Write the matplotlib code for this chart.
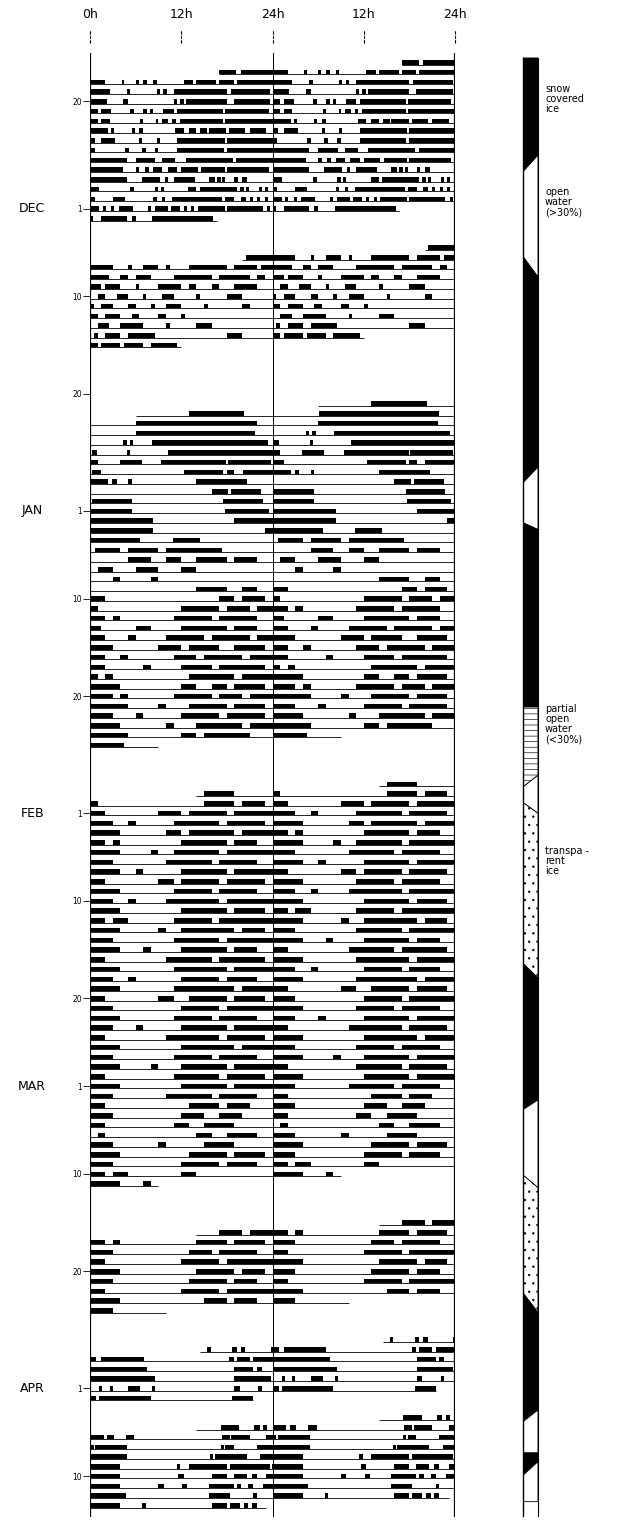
import datetime as dt
import matplotlib
matplotlib.use("Agg")
import matplotlib.pyplot as plt
from matplotlib.patches import Polygon

plt.rcParams["hatch.linewidth"] = 0.45

# ---------------- data ----------------
# activity bouts per day (hours 0-24), keyed by day of month
nov = {
    17: [(17, 19.2), (19.8, 24)],
    18: [(0, 2), (4.2, 4.5), (6, 6.4), (7, 7.5), (8.3, 8.8), (12.3, 13.6), (14, 16.6), (17, 18.9), (19.3, 24)],
    19: [(0, 2.6), (4.8, 5.3), (8.8, 9.2), (9.6, 10.1), (11, 18), (18.5, 23.7)],
    20: [(0, 2.2), (4.4, 5), (11, 11.4), (11.8, 12.3), (12.6, 18), (18.9, 23.7)],
    21: [(0, 1), (1.5, 2.8), (5.3, 5.8), (7, 7.5), (7.9, 8.3), (9.6, 11), (11.5, 17.5), (17.8, 23.5)],
    22: [(0, 1), (1.5, 2.6), (6.6, 7), (8.7, 9), (9.5, 10.3), (10.8, 11.3), (11.8, 17.5), (17.8, 24)],
    23: [(0, 2.4), (2.8, 3.2), (5.5, 5.9), (6.5, 7), (11.2, 12.3), (13, 14), (14.5, 15.4), (15.6, 17.9), (18.3, 20.4), (21, 23.2)],
    24: [(0, 0.7), (1.5, 3.3), (6.5, 6.9), (8.8, 9.2), (11.5, 17.7), (18, 24)],
    25: [(0, 0.6), (4.6, 5.1), (6.8, 7.3), (8.5, 9), (11.5, 17.6), (18, 24)],
    26: [(0, 4.8), (6, 8.6), (9.5, 11.2), (12.6, 18.8), (19.2, 24)],
    27: [(0, 4.4), (6, 6.5), (7.2, 7.7), (8.3, 9.5), (10.2, 11.5), (12, 14.2), (14.6, 17.7), (18, 23.5)],
    28: [(0, 4.8), (6.8, 9.2), (9.8, 10.2), (11, 13.8), (15.6, 16.4), (16.7, 17.2), (17.4, 17.8), (19, 19.4), (20, 20.7)],
    29: [(0, 1.2), (5.3, 5.8), (8.5, 9), (9.3, 9.7), (12.9, 14), (14.4, 19.3), (19.7, 20.2), (20.5, 20.9), (22.2, 22.6), (23, 23.4)],
    30: [(0, 0.6), (3, 4.6), (8.3, 8.8), (9.5, 9.9), (10.8, 17.4), (17.8, 19), (19.8, 20.5), (21, 21.4), (22, 22.4), (23, 23.4)],
}
dec = {
    1: [(0, 1.2), (1.7, 2.1), (2.8, 3.2), (3.8, 5.6), (7.6, 8), (8.5, 10.2), (10.6, 11.8), (12.3, 12.7), (13.3, 13.7), (14.2, 17.7), (18, 22.7), (23.3, 23.7)],
    2: [(0, 0.4), (1.5, 4.8), (5.5, 6), (8.2, 16.2)],
    6: [(20.5, 24)],
    7: [(0, 3), (5, 5.5), (7, 9), (10, 10.5), (13, 18), (19, 22), (22.5, 24)],
    8: [(0, 2.5), (4, 5), (6, 8), (11, 16), (17, 21), (22, 23)],
    9: [(0, 1.5), (2, 4), (6, 6.5), (9, 12), (13, 14), (16, 17), (19, 22)],
    10: [(1, 2), (3.5, 5), (7, 7.4), (9.5, 11), (14, 14.5), (18, 20)],
    11: [(0, 0.5), (1.5, 3), (5, 6), (8, 8.5), (10, 12), (15, 15.5), (20, 21)],
    12: [(0, 1), (2, 4), (5.5, 6.5), (9, 10), (12, 12.5)],
    13: [(1, 2.5), (4, 7), (10, 10.5), (14, 16)],
    14: [(0.5, 1), (2, 4), (5, 8.5), (18, 20)],
    15: [(0, 1), (1.5, 4), (4.5, 7), (8, 11.5)],
    22: [(13, 20.3)],
    23: [(6.1, 21.9)],
    24: [(6, 21.7)],
    25: [(4.4, 4.8), (5.2, 5.7), (8.1, 23.4)],
    26: [(0.2, 0.9), (4.9, 5.3), (10.3, 24)],
    27: [(0, 1), (3.9, 6.8), (9.4, 17.9), (18.1, 23.8)],
    28: [(0.2, 1.5), (12.4, 17.5), (18, 19), (20.1, 24)],
    29: [(0, 2.4), (2.9, 3.5), (5, 5.5), (14, 20.7)],
    30: [(16, 18.2), (18.6, 22.5)],
    31: [(0.2, 5.5), (17.5, 22.7)],
}
jan = {
    1: [(0, 5.5), (17.7, 23.5)],
    2: [(0, 8.3), (19, 24)],
    3: [(0, 8.3), (23, 24)],
    4: [(0, 6.6), (10.9, 14.4)],
    5: [(0.7, 4), (5, 9), (10, 17.3)],
    6: [(5, 8), (10, 12), (14, 18), (19, 22)],
    7: [(1, 3), (6, 9), (12, 14)],
    8: [(3, 4), (8, 9)],
    9: [(14, 18), (20, 22)],
    10: [(0, 2), (17, 19), (20, 23)],
    11: [(0, 1), (12, 17), (18, 21), (22, 24)],
    12: [(0, 2), (3, 4), (11, 16), (17, 22)],
    13: [(0, 1.5), (6, 8), (12, 18), (19, 22)],
    14: [(0, 2), (5, 6), (10, 15), (16, 21), (22, 24)],
    15: [(0, 3), (9, 12), (13, 17), (19, 23)],
    16: [(0, 2), (4, 5), (11, 14), (15, 20), (21, 24)],
    17: [(0, 2), (7, 8), (12, 16), (17, 23)],
    18: [(0, 1), (2, 3), (13, 19), (20, 24)],
    19: [(0, 4), (12, 14), (16, 18), (19, 23)],
    20: [(0, 3), (4, 5), (11, 16), (17, 20), (21, 24)],
    21: [(0, 5), (9, 10), (13, 18), (19, 23)],
    22: [(0, 3), (6, 7), (12, 17), (18, 23)],
    23: [(0, 4), (10, 11), (14, 20), (21, 24)],
    24: [(0, 5), (12, 14), (15, 21)],
    25: [(0, 4.5)],
    30: [(15, 19)],
    31: [(0, 1), (15, 19), (20, 23)],
}
feb = {
    1: [(0, 2), (9, 12), (13, 18), (19, 24)],
    2: [(0, 3), (5, 6), (11, 17), (18, 23)],
    3: [(0, 4), (10, 12), (13, 19), (20, 24)],
    4: [(0, 2), (3, 4), (12, 18), (19, 22)],
    5: [(0, 4), (8, 9), (11, 17), (18, 24)],
    6: [(0, 3), (10, 16), (17, 22)],
    7: [(0, 4), (6, 7), (12, 18), (19, 24)],
    8: [(0, 2), (9, 11), (12, 17), (18, 23)],
    9: [(0, 4), (11, 16), (17, 22)],
    10: [(0, 3), (5, 6), (10, 17), (18, 24)],
    11: [(0, 4), (12, 18), (19, 23)],
    12: [(0, 2), (3, 5), (11, 16), (17, 24)],
    13: [(0, 4), (9, 10), (12, 19), (20, 23)],
    14: [(0, 3), (11, 17), (18, 24)],
    15: [(0, 4), (7, 8), (12, 18), (19, 22)],
    16: [(0, 2), (10, 16), (17, 23)],
    17: [(0, 4), (11, 18), (19, 24)],
    18: [(0, 3), (5, 6), (12, 17), (18, 22)],
    19: [(0, 4), (11, 19), (20, 24)],
    20: [(0, 2), (9, 11), (13, 18), (19, 23)],
    21: [(0, 3), (12, 17), (18, 24)],
    22: [(0, 4), (11, 16), (17, 22)],
    23: [(0, 3), (6, 7), (12, 18), (19, 24)],
    24: [(0, 2), (10, 17), (18, 23)],
    25: [(0, 4), (12, 19), (20, 24)],
    26: [(0, 3), (11, 16), (17, 22)],
    27: [(0, 4), (8, 9), (12, 18), (19, 24)],
    28: [(0, 2), (11, 17), (18, 23)],
}
mar = {
    1: [(0, 4), (12, 18), (19, 24)],
    2: [(0, 3), (10, 16), (17, 22)],
    3: [(0, 2), (13, 17), (18, 21)],
    4: [(0, 3), (12, 15), (17, 20)],
    5: [(0, 2), (11, 13), (15, 19)],
    6: [(1, 2), (14, 16), (18, 22)],
    7: [(0, 3), (9, 10), (15, 19)],
    8: [(0, 4), (13, 18), (19, 23)],
    9: [(0, 3), (12, 17), (18, 22)],
    10: [(0, 2), (3, 5), (12, 14)],
    11: [(0, 4), (7, 8)],
    16: [(17, 20), (21, 24)],
    17: [(0, 2), (3, 4), (14, 18), (19, 23)],
    18: [(0, 3), (13, 16), (17, 22)],
    19: [(0, 2), (12, 17), (18, 24)],
    20: [(0, 4), (14, 19), (20, 23)],
    21: [(0, 3), (13, 18), (19, 22)],
    22: [(0, 2), (12, 17), (18, 24)],
    23: [(0, 4), (15, 18), (19, 22)],
    24: [(0, 3)],
    28: [(15.4, 15.9), (18.7, 19.3), (19.8, 20.4), (23.8, 24)],
    29: [(0, 0.8), (1.5, 7.1), (18.3, 18.9), (19.3, 21), (21.5, 24)],
    30: [(0, 7.5), (19, 21.5), (21.9, 22.6)],
    31: [(0, 8.5), (19, 23.8)],
}
apr = {
    1: [(1.2, 1.6), (2.6, 3), (5, 6.6), (8.2, 8.6), (19, 19.7), (22.1, 22.6)],
    2: [(0, 0.8), (1.2, 8), (18.7, 21.5)],
    5: [(17.2, 19.6), (21.6, 22.3), (22.8, 23.3)],
    6: [(0, 1.8), (2.3, 3.1), (4.7, 5.8), (17.3, 18.4), (18.6, 21), (23.2, 24)],
    7: [(0, 0.5), (0.7, 4.9), (17.2, 17.6), (17.8, 18.9), (21.9, 24)],
    8: [(0, 4.9), (15.8, 16.2), (16.4, 20.6), (22.4, 24)],
    9: [(0, 4), (11.4, 11.9), (13, 18), (18.4, 23.7), (23.9, 24)],
    10: [(0, 4), (11.6, 12.3), (16, 18), (18.9, 20.6), (21.3, 21.9), (23.2, 24)],
    11: [(0, 4), (9, 9.7), (12.1, 12.8), (15.6, 18.9), (19.3, 19.9), (20.8, 21.5), (22.8, 24)],
    12: [(0, 4.7), (15.6, 18.4), (21.5, 21.9)],
    13: [(0, 4), (6.9, 7.3), (16, 18), (18.4, 19.7), (20.2, 20.8), (21.3, 21.9)],
}
# recording periods: (start month, day, hour) -> (end month, day, hour)
recordings = [
    ((11, 17, 17.0), (12, 2, 16.7)),
    ((12, 6, 20.0), (12, 15, 12.0)),
    ((12, 22, 6.0), (1, 25, 9.0)),
    ((1, 30, 14.0), (3, 11, 9.0)),
    ((3, 16, 14.0), (3, 24, 10.0)),
    ((3, 28, 14.5), (4, 2, 21.5)),
    ((4, 5, 14.0), (4, 13, 23.2)),
]
# y-axis date labels
tick_dates = [(11, 20), (12, 1), (12, 10), (12, 20), (1, 1), (1, 10), (1, 20),
              (2, 1), (2, 10), (2, 20), (3, 1), (3, 10), (3, 20), (4, 1), (4, 10)]
tick_texts = ["20", "1", "10", "20", "1", "10", "20", "1", "10", "20", "1", "10", "20", "1", "10"]
month_names = ["DEC", "JAN", "FEB", "MAR", "APR"]
month_dates = [(12, 1), (1, 1), (2, 1), (3, 1), (4, 1)]
x_labels = ["0h", "12h", "24h", "12h", "24h"]
x_positions = [0, 12, 24, 36, 48]

# ice condition strip: boundaries (left edge row, right edge row) and state between
ice_left = [-0.67, 11.0, 19.7, 42.9, 47.0, 65.9, 74.1, 75.7, 92.2, 107.2, 113.9, 126.0, 139.2, 142.4, 144.7, 147.4]
ice_right = [-0.67, 9.3, 21.8, 41.3, 47.7, 65.9, 72.9, 76.8, 93.7, 106.2, 115.2, 128.0, 138.0, 142.4, 143.3, 147.4]
ice_state = ["snow", "open", "snow", "open", "snow", "partial", "open", "transparent",
             "snow", "open", "transparent", "snow", "open", "snow", "open"]

# ---------------- layout ----------------
W, H = 623, 1520
BASE = dt.date(1980, 11, 16)
YEAR = {11: 1980, 12: 1980, 1: 1981, 2: 1981, 3: 1981, 4: 1981}
Y0_PX, DY_PX = 64.5, 9.75          # pixel of row-0 baseline, pixels per day
TOP_PX, BOT_PX = 53, 1517


def row(m, d):
    return (dt.date(YEAR[m], m, d) - BASE).days


def px2row(p):
    return (p - Y0_PX) / DY_PX


fig = plt.figure(figsize=(W / 100, H / 100), dpi=100)
fig.patch.set_facecolor("white")
ax_l, ax_r = 90 / W, 455 / W
ax = fig.add_axes([ax_l, 1 - BOT_PX / H, ax_r - ax_l, (BOT_PX - TOP_PX) / H])
ax.set_xlim(0, 48)
ax.set_ylim(px2row(BOT_PX), px2row(TOP_PX))
for s in ["top", "bottom", "left", "right"]:
    ax.spines[s].set_visible(False)
ax.set_xticks([])

BAR = 0.45
for month, m in [(nov, 11), (dec, 12), (jan, 1), (feb, 2), (mar, 3), (apr, 4)]:
    for d, bouts in month.items():
        k = row(m, d)
        segs = [(s, e - s) for s, e in bouts]
        ax.broken_barh(segs, (k - BAR, BAR), facecolors="black", edgecolor="none")
        ax.broken_barh([(s + 24, w) for s, w in segs], (k - 1 - BAR, BAR),
                       facecolors="black", edgecolor="none")

for (m1, d1, h1), (m2, d2, h2) in recordings:
    a = row(m1, d1) * 24 + h1
    b = row(m2, d2) * 24 + h2
    for r in range(row(m1, d1) - 1, row(m2, d2) + 1):
        lo, hi = max(a, r * 24), min(b, r * 24 + 48)
        if hi > lo:
            ax.plot([lo - r * 24, hi - r * 24], [r, r], color="black", lw=0.6,
                    solid_capstyle="butt")

ax.axvline(0, color="black", lw=1.6)
ax.axvline(48, color="black", lw=1.6)
ax.axvline(24, color="black", lw=0.7)

# y ticks
yt = [row(m, d) - BAR / 2 for m, d in tick_dates]
ax.set_yticks(yt)
ax.set_yticklabels(tick_texts, fontsize=5.5)
ax.tick_params(axis="y", length=5, width=0.6, pad=1)
for name, (m, d) in zip(month_names, month_dates):
    ax.text(-7.6, row(m, d) - BAR / 2, name, fontsize=9, ha="center", va="center")

# top hour labels and ticks
trans = ax.get_xaxis_transform()
hpx = BOT_PX - TOP_PX
for xp, lab in zip(x_positions, x_labels):
    ax.text(xp, 1 + 38 / hpx, lab, transform=trans, ha="center", va="center",
            fontsize=9, clip_on=False)
    ax.plot([xp, xp], [1 + 10 / hpx, 1 + 23 / hpx], transform=trans, color="black",
            lw=0.8, ls=(0, (3, 1)), clip_on=False)

# ---------------- ice strip ----------------
sx0, sx1 = 523 / W, 538 / W
sax = fig.add_axes([sx0, 1 - BOT_PX / H, sx1 - sx0, (BOT_PX - TOP_PX) / H])
sax.set_xlim(0, 1)
sax.set_ylim(px2row(BOT_PX), px2row(TOP_PX))
sax.axis("off")
styles = {
    "snow": dict(facecolor="black", hatch=None),
    "open": dict(facecolor="white", hatch=None),
    "partial": dict(facecolor="white", hatch="---"),
    "transparent": dict(facecolor="white", hatch=".."),
}
for j, st in enumerate(ice_state):
    poly = [(0, ice_left[j]), (1, ice_right[j]), (1, ice_right[j + 1]), (0, ice_left[j + 1])]
    sax.add_patch(Polygon(poly, closed=True, edgecolor="black", linewidth=0.6,
                          **styles[st]))
sax.plot([0, 0], [ice_left[0], ice_left[-1] + 1.5], color="black", lw=1.0, clip_on=False)
sax.plot([1, 1], [ice_right[0], ice_right[-1] + 1.5], color="black", lw=0.8, clip_on=False)

label_specs = [
    ("snow\ncovered\nice", 2.0),
    ("open\nwater\n(>30%)", 12.6),
    ("partial\nopen\nwater\n(<30%)", 65.6),
    ("transpa -\nrent\nice", 80.2),
]
for txt, r in label_specs:
    ypx = Y0_PX + r * DY_PX
    fig.text(545 / W, 1 - ypx / H, txt, fontsize=7, ha="left", va="top",
             linespacing=1.0)

fig.savefig("out.png", dpi=100, facecolor="white")
